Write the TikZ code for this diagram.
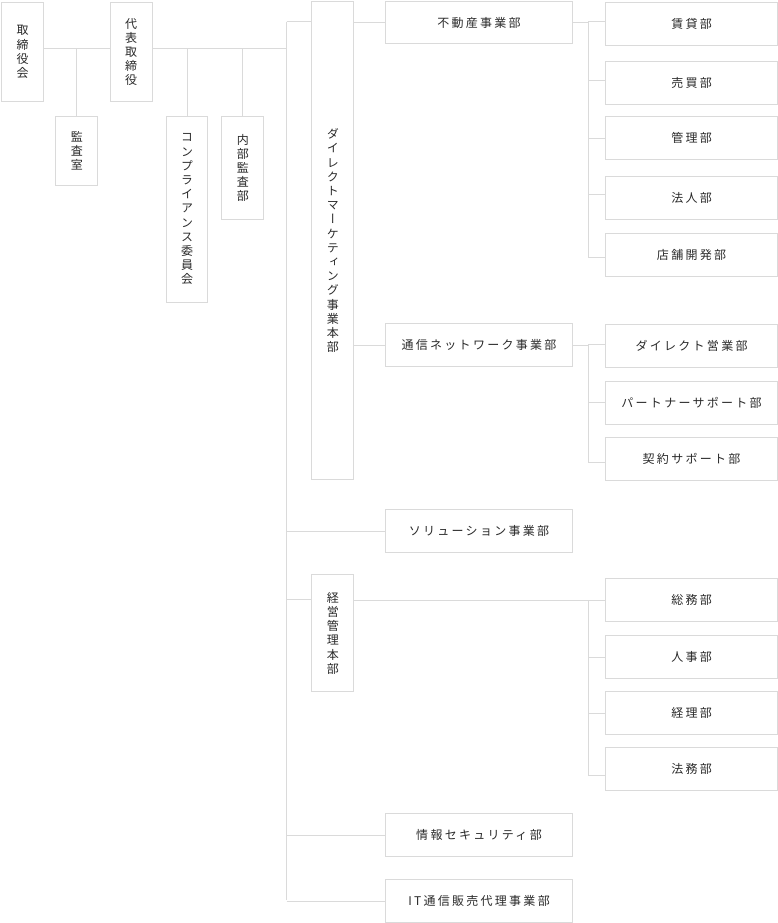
\documentclass[tikz,border=0pt]{standalone}
\usepackage{fontspec}
\newfontfamily\jp[LetterSpace=19]{Noto Sans CJK JP}
\newfontfamily\jpv[RawFeature=+vert]{Noto Sans CJK JP}
\definecolor{ln}{HTML}{DADADA}
\definecolor{tx}{HTML}{2A2A2A}
\begin{document}
\begin{tikzpicture}[x=1pt,y=-1pt,
  box/.style={draw=ln, line width=1pt, inner sep=0pt, anchor=north west, text=tx},
  hbox/.style={box, font=\jp\fontsize{12}{14}\selectfont},
  vbox/.style={box, align=center, font=\jpv\fontsize{12}{14.2}\selectfont},
  conn/.style={draw=ln, line width=1pt}]
\useasboundingbox[fill=white] (0,0) rectangle (778,923);
% vertical boxes
\node[vbox, minimum width=42pt, minimum height=99pt] (tori) at (1,2) {取\\締\\役\\会};
\node[vbox, minimum width=42pt, minimum height=99pt] (daihyo) at (109.5,2) {代\\表\\取\\締\\役};
\node[vbox, minimum width=42pt, minimum height=69.3pt] (kansa) at (55.3,115.7) {監\\査\\室};
\node[vbox, minimum width=41.6pt, minimum height=186.3pt] (comp) at (165.7,115.7) {コ\\ン\\プ\\ラ\\イ\\ア\\ン\\ス\\委\\員\\会};
\node[vbox, minimum width=42pt, minimum height=103.3pt] (naibu) at (221.3,115.7) {内\\部\\監\\査\\部};
\node[vbox, minimum width=42pt, minimum height=478.3pt] (dm) at (311.3,1) {ダ\\イ\\レ\\ク\\ト\\マ\\ー\\ケ\\テ\\ィ\\ン\\グ\\事\\業\\本\\部};
\node[vbox, minimum width=42pt, minimum height=117pt] (keiei) at (311.3,574.3) {経\\営\\管\\理\\本\\部};
% middle column
\node[hbox, minimum width=186.4pt, minimum height=42.3pt] (fudosan) at (385.3,1) {不動産事業部};
\node[hbox, minimum width=186.4pt, minimum height=42.7pt] (tsushin) at (385.3,323.3) {通信ネットワーク事業部};
\node[hbox, minimum width=186.4pt, minimum height=43pt] (sol) at (385.3,509.3) {ソリューション事業部};
\node[hbox, minimum width=186.4pt, minimum height=43pt] (joho) at (385.3,813.3) {情報セキュリティ部};
\node[hbox, minimum width=186.4pt, minimum height=43pt] (it) at (385.3,879) {IT通信販売代理事業部};
% right column
\foreach \n/\y/\t in {chintai/2.3/賃貸部, baibai/61/売買部, kanri/115.7/管理部, hojin/175.7/法人部, tenpo/232.7/店舗開発部,
  direct/324.3/ダイレクト営業部, partner/381.3/パートナーサポート部, keiyaku/437.3/契約サポート部,
  somu/578.3/総務部, jinji/635.3/人事部, keiri/691.3/経理部, homu/747.3/法務部}
  \node[hbox, minimum width=171.5pt, minimum height=43pt] (\n) at (605.3,\y) {\t};
% top connectors
\coordinate (tk) at (286.5,21.7);
\coordinate (tb) at (286.5,900);
\coordinate (rx) at (588.3,0);
\draw[conn] (tori.east |- 0,49) -- (daihyo.west |- 0,49);
\draw[conn] (kansa.north) -- (kansa.north |- 0,49);
\draw[conn] (daihyo.east |- 0,49) -- (285.5,49);
\draw[conn] (comp.north) -- (comp.north |- 0,49);
\draw[conn] (naibu.north) -- (naibu.north |- 0,49);
% trunk
\draw[conn] (tk) -- (tb);
\draw[conn] (tk) -- (dm.west |- tk);
\draw[conn] (sol.west -| tk) -- (sol.west);
\draw[conn] (tk |- 0,599) -- (keiei.west |- 0,599);
\draw[conn] (joho.west -| tk) -- (joho.west);
\draw[conn] (it.west -| tk) -- (it.west);
\draw[conn] (dm.east |- fudosan.west) -- (fudosan.west);
\draw[conn] (dm.east |- tsushin.west) -- (tsushin.west);
% right trees
\draw[conn] (fudosan.east) -- (fudosan.east -| rx);
\draw[conn] (rx |- 0,21.7) -- (rx |- 0,257.3);
\foreach \n/\y in {chintai/21.7, baibai/81, kanri/138.7, hojin/194, tenpo/257.3}
  \draw[conn] (rx |- 0,\y) -- (\n.west |- 0,\y);
\draw[conn] (tsushin.east) -- (tsushin.east -| rx);
\draw[conn] (rx |- 0,344.3) -- (rx |- 0,462.3);
\foreach \n/\y in {direct/344.3, partner/402.7, keiyaku/462.3}
  \draw[conn] (rx |- 0,\y) -- (\n.west |- 0,\y);
\draw[conn] (keiei.east |- 0,600) -- (rx |- 0,600);
\draw[conn] (rx |- 0,600) -- (rx |- 0,775.3);
\foreach \n/\y in {somu/600, jinji/657, keiri/713.3, homu/775.3}
  \draw[conn] (rx |- 0,\y) -- (\n.west |- 0,\y);
\end{tikzpicture}
\end{document}
